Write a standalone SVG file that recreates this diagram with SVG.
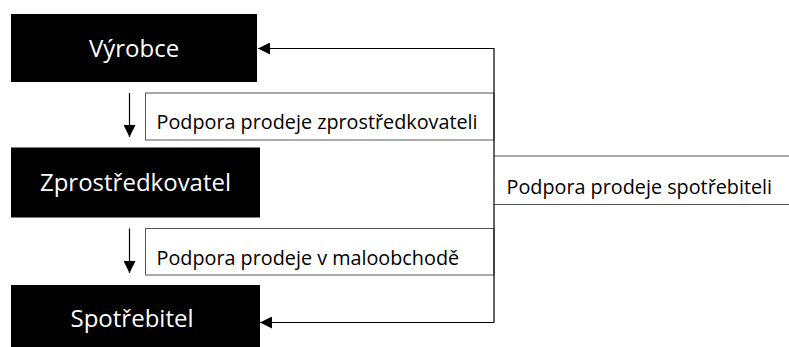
<svg xmlns="http://www.w3.org/2000/svg" width="789" height="347" viewBox="0 0 789 347">
<defs>
<style>
.node{fill:#000}
.big{font-family:"Open Sans","Liberation Sans",sans-serif;font-size:24px;fill:#fff;text-anchor:middle}
.lab{font-family:"Open Sans","Liberation Sans",sans-serif;font-size:19.8px;fill:#000}
.lbox{fill:#fff;stroke:#555;stroke-width:1}
.conn{fill:none;stroke:#000;stroke-width:1.2}
</style>
<marker id="ah" viewBox="0 0 10 10" refX="10" refY="5" markerWidth="12" markerHeight="12" markerUnits="userSpaceOnUse" orient="auto">
<path d="M0,0 L10,5 L0,10 z" fill="#000"/>
</marker>
</defs>
<rect width="789" height="347" fill="#fff"/>
<g id="vyrobce">
<rect class="node" x="11" y="14" width="246" height="68"/>
<text class="big" x="134" y="56.5">Výrobce</text>
</g>
<g id="zprostredkovatel">
<rect class="node" x="11" y="147.5" width="249" height="70"/>
<text class="big" x="135.5" y="191">Zprostředkovatel</text>
</g>
<g id="spotrebitel">
<rect class="node" x="11" y="285" width="249" height="70"/>
<text class="big" x="132" y="326.5">Spotřebitel</text>
</g>
<g id="label-zprostredkovateli">
<rect class="lbox" x="145.5" y="93" width="348.5" height="47"/>
<text class="lab" x="156.5" y="129">Podpora prodeje zprostředkovateli</text>
</g>
<g id="label-maloobchod">
<rect class="lbox" x="145.5" y="228.5" width="348.5" height="46.5"/>
<text class="lab" x="156.5" y="265">Podpora prodeje v maloobchodě</text>
</g>
<g id="label-spotrebiteli">
<path class="lbox" d="M494,156 H789 M494,204.5 H789"/>
<text class="lab" x="506.5" y="193.5">Podpora prodeje spotřebiteli</text>
</g>
<g id="connectors">
<path class="conn" d="M129.5,93 V137" marker-end="url(#ah)"/>
<path class="conn" d="M129.5,228.5 V273" marker-end="url(#ah)"/>
<path class="conn" d="M494,322.5 V48.5 H258" marker-end="url(#ah)"/>
<path class="conn" d="M494,322.5 H260" marker-end="url(#ah)"/>
</g>
</svg>
